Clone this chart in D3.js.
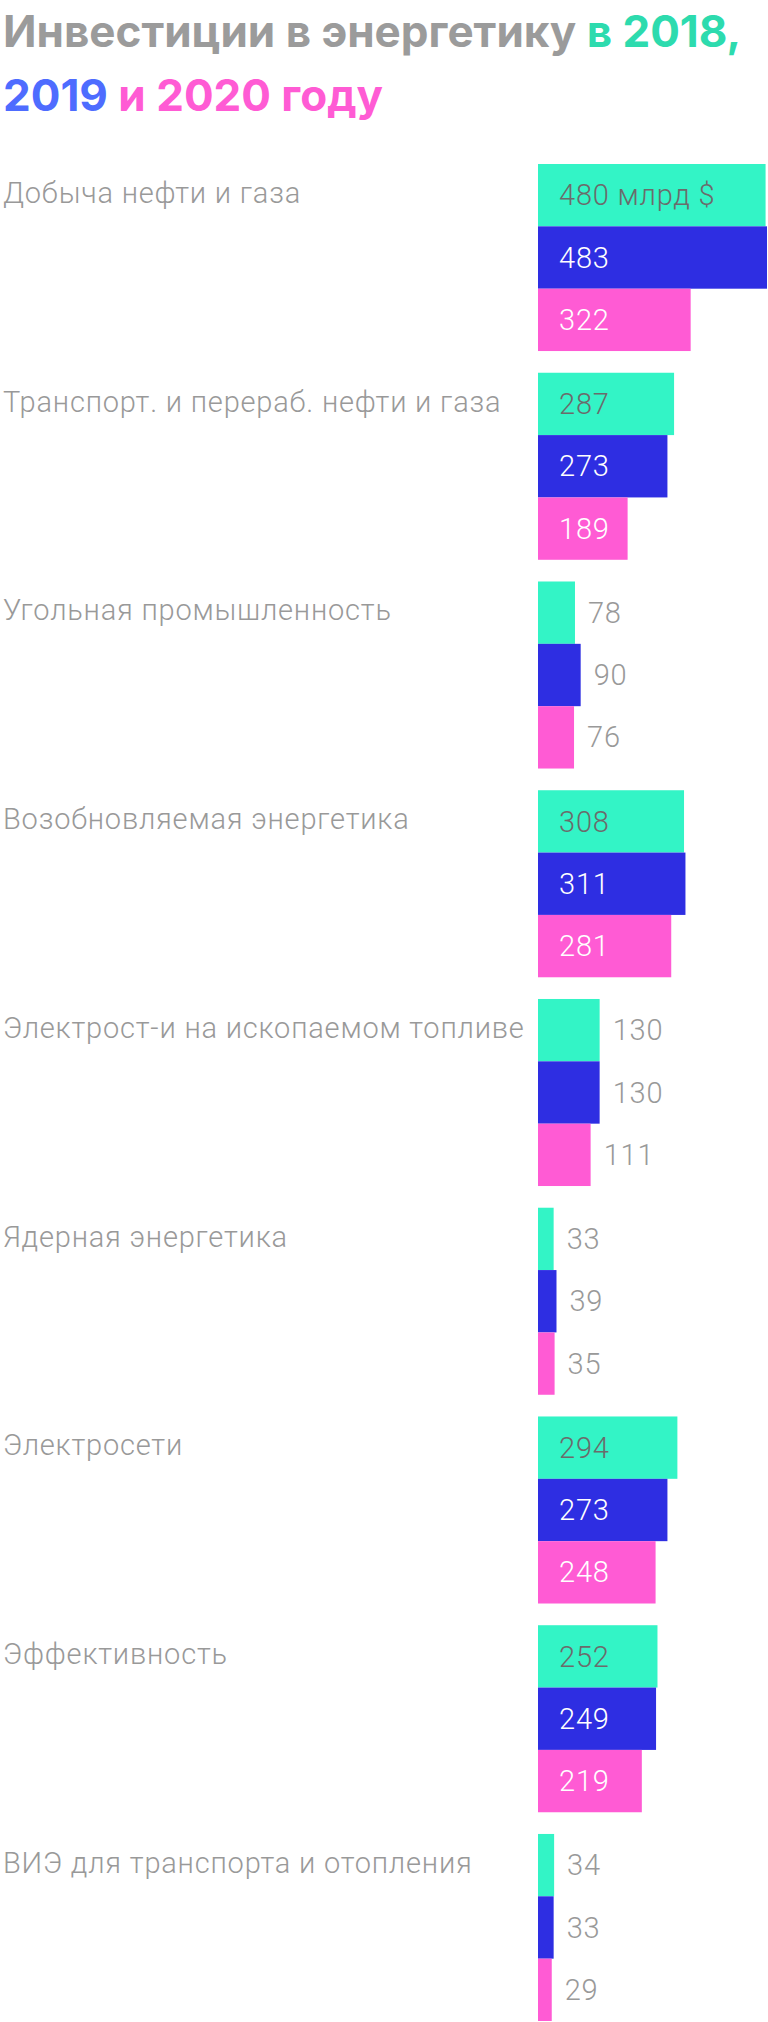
<!DOCTYPE html>
<html>
<head>
<meta charset="utf-8">
<script src="https://cdn.jsdelivr.net/npm/d3@7"></script>
<style>
  body { margin: 0; background: #fff; }
  svg { display: block; }
</style>
</head>
<body>
<div id="chart"></div>
<script>
var categories = ["Добыча нефти и газа",
                  "Транспорт. и перераб. нефти и газа",
                  "Угольная промышленность",
                  "Возобновляемая энергетика",
                  "Электрост-и на ископаемом топливе",
                  "Ядерная энергетика",
                  "Электросети",
                  "Эффективность",
                  "ВИЭ для транспорта и отопления"];
var years = ["2018", "2019", "2020"];
var values2018 = [480, 287, 78, 308, 130, 33, 294, 252, 34];
var values2019 = [483, 273, 90, 311, 130, 39, 273, 249, 33];
var values2020 = [322, 189, 76, 281, 111, 35, 248, 219, 29];
var unitSuffix = " млрд $";

var width = 768,
    height = 2022,
    barColors = {"2018": "#33f4c6", "2019": "#2e2ee2", "2020": "#ff5bd4"},
    insideText = {"2018": "#6b6b6b", "2019": "#ffffff", "2020": "#ffffff"},
    labelFont = "Roboto, 'Noto Sans', sans-serif";

var series = {"2018": values2018, "2019": values2019, "2020": values2020};

var rows = categories.map(function(c, i) {
  return {
    category: c,
    bars: years.map(function(yr) { return {year: yr, value: series[yr][i], first: i === 0}; })
  };
});

var svg = d3.select("#chart").append("svg")
    .attr("width", width)
    .attr("height", height);

// title, two lines with coloured years
var title = svg.append("text")
    .attr("font-family", "Inter, Roboto, sans-serif")
    .attr("font-weight", 700)
    .attr("font-size", 44);

var line1 = title.append("tspan").attr("x", 3).attr("y", 47);
line1.append("tspan").attr("fill", "#9b9b9b").text("Инвестиции в энергетику ");
line1.append("tspan").attr("fill", "#2ddbae").text("в 2018,");

var line2 = title.append("tspan").attr("x", 3).attr("y", 111);
line2.append("tspan").attr("fill", "#4e6cff").text("2019 ");
line2.append("tspan").attr("fill", "#ff5bd4").text("и 2020 году");

var x = d3.scaleLinear()
    .domain([0, 483])
    .range([538, 767]);

var y = d3.scaleBand()
    .domain(categories)
    .range([164, 2021])
    .paddingInner(0.104);

var yInner = d3.scaleBand()
    .domain(years)
    .range([0, y.bandwidth()]);

var group = svg.selectAll("g.group")
    .data(rows)
  .enter().append("g")
    .attr("class", "group")
    .attr("transform", function(d) { return "translate(0," + y(d.category) + ")"; });

group.append("text")
    .attr("class", "category")
    .attr("x", 3)
    .attr("y", 39)
    .attr("font-family", labelFont)
    .attr("font-weight", 300)
    .attr("font-size", 29)
    .attr("letter-spacing", 0.8)
    .attr("fill", "#999999")
    .text(function(d) { return d.category; });

var bar = group.selectAll("g.bar")
    .data(function(d) { return d.bars; })
  .enter().append("g")
    .attr("class", "bar")
    .attr("transform", function(d) { return "translate(0," + yInner(d.year) + ")"; });

bar.append("rect")
    .attr("x", x(0))
    .attr("y", 0)
    .attr("width", function(d) { return x(d.value) - x(0); })
    .attr("height", yInner.bandwidth())
    .attr("fill", function(d) { return barColors[d.year]; });

bar.append("text")
    .attr("x", function(d) { return d.value > 150 ? x(0) + 21 : x(d.value) + 13; })
    .attr("y", yInner.bandwidth() / 2)
    .attr("dy", "0.35em")
    .attr("font-family", labelFont)
    .attr("font-weight", 300)
    .attr("font-size", 29)
    .attr("letter-spacing", 0.8)
    .attr("fill", function(d) { return d.value > 150 ? insideText[d.year] : "#999999"; })
    .text(function(d) { return d.value + (d.first && d.year === "2018" ? unitSuffix : ""); });
</script>
</body>
</html>
